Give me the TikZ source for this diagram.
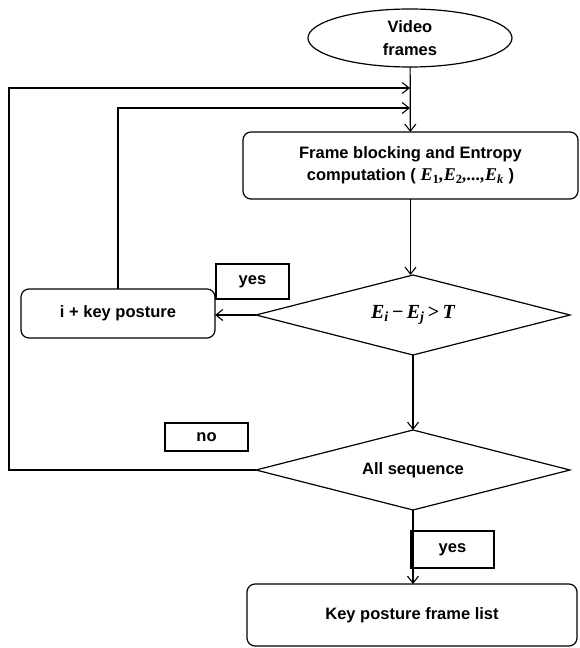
\documentclass[tikz,border=0pt]{standalone}
\usepackage{fontspec}
\setmainfont{Liberation Sans}
\newfontfamily\tnr{Liberation Serif}
\usetikzlibrary{arrows.meta,shapes.geometric}
\newcommand\condtext{{\tnr\fontsize{20}{22}\selectfont\bfseries\itshape E\textsubscript{i}\,{\upshape\textminus}\,E\textsubscript{j}\,{\upshape\textgreater}\,T}}
\newcommand\entrtext{{\tnr\fontsize{18}{20}\selectfont\bfseries\itshape E{\upshape\textsubscript{1}},E{\upshape\textsubscript{2}},...,E\textsubscript{k}}}
\begin{document}
\begin{tikzpicture}[x=1pt,y=-1pt,
  line width=1.2pt,
  every node/.style={font=\fontsize{16.5}{19}\selectfont\bfseries, inner sep=0pt, outer sep=0pt, align=center},
  arr/.style={-{Straight Barb[length=7pt,width=11pt,line width=1.1pt]}},
  rbox/.style={draw, rectangle, rounded corners=8pt},
  lbox/.style={draw, rectangle},
  decbox/.style={draw, diamond, aspect=3.925, minimum width=314pt, minimum height=80pt}
]
\useasboundingbox (0,0) rectangle (579,648);
\node[draw, ellipse, minimum width=204pt, minimum height=58pt] (video) at (410,38) {Video\\[4pt]frames};
\node[rbox, minimum width=335pt, minimum height=67pt] (frame) at (410.5,165.5) {Frame blocking and Entropy\\[3pt]computation ( \entrtext\ )};
\node[decbox] (d1) at (413,315) {\condtext};
\node[rbox, minimum width=194pt, minimum height=49pt] (ikey) at (118,313.5) {i + key posture};
\node[lbox, minimum width=73pt, minimum height=35pt] (yes1) at (252.5,281.5) {yes};
\node[decbox] (d2) at (413,470) {All sequence};
\node[lbox, minimum width=83pt, minimum height=28pt] (no) at (206.5,437) {no};
\node[rbox, minimum width=330pt, minimum height=62pt] (final) at (412,615) {Key posture frame list};
\node[lbox, fill=white, minimum width=83pt, minimum height=37pt] (yes2) at (452.5,549.5) {yes};
\coordinate (j1) at (410,108);
\coordinate (j2) at (410,88);
\coordinate (c1) at (9,470);
\draw[arr] (video) -- (frame);
\draw[arr] (frame.south) -- (frame.south |- d1.north);
\draw[arr] (d1.west) -- (d1.west -| ikey.east);
\draw[arr] (ikey.north) |- (j1);
\draw[arr] (d2.west) -- (c1) |- (j2);
\draw[arr] (d1.south) -- (d2.north);
\draw[arr] (d2.south) -- (d2.south |- final.north);
\end{tikzpicture}
\end{document}
